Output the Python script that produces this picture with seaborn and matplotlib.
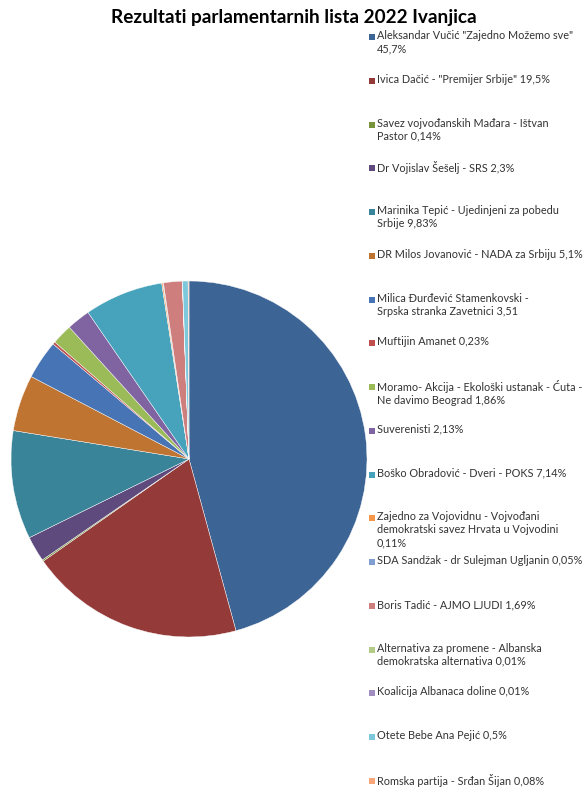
import numpy as np
import matplotlib
matplotlib.use("Agg")
import matplotlib.pyplot as plt
import seaborn as sns
from matplotlib.patches import Rectangle

# --- data ---
parties = [
    'Aleksandar Vučić "Zajedno Možemo sve"\n45,7%',
    'Ivica Dačić - "Premijer Srbije" 19,5%',
    'Savez vojvođanskih Mađara - Ištvan\nPastor 0,14%',
    'Dr Vojislav Šešelj - SRS 2,3%',
    'Marinika Tepić - Ujedinjeni za pobedu\nSrbije 9,83%',
    'DR Milos Jovanović - NADA za Srbiju 5,1%',
    'Milica Đurđević Stamenkovski -\nSrpska stranka Zavetnici 3,51',
    'Muftijin Amanet 0,23%',
    'Moramo- Akcija - Ekološki ustanak - Ćuta -\nNe davimo Beograd 1,86%',
    'Suverenisti 2,13%',
    'Boško Obradović - Dveri - POKS 7,14%',
    'Zajedno za Vojovidnu - Vojvođani\ndemokratski savez Hrvata u Vojvodini\n0,11%',
    'SDA Sandžak - dr Sulejman Ugljanin 0,05%',
    'Boris Tadić - AJMO LJUDI 1,69%',
    'Alternativa za promene - Albanska\ndemokratska alternativa 0,01%',
    'Koalicija Albanaca doline 0,01%',
    'Otete Bebe Ana Pejić 0,5%',
    'Romska partija - Srđan Šijan 0,08%',
]
shares = [45.7, 19.5, 0.14, 2.3, 9.83, 5.1, 3.51, 0.23, 1.86, 2.13,
          7.14, 0.11, 0.05, 1.69, 0.01, 0.01, 0.5, 0.08]

colors = ['#3C6494', '#943B3A', '#77933C', '#5E4A7D', '#3A8499', '#C07432',
          '#4674B4', '#C0504D', '#9BBB59', '#8064A2', '#47A3BC', '#F79646',
          '#7F9FD0', '#CD7E7D', '#B3CB86', '#A18FC1', '#7EC8DC', '#F8A77A']

sns.set_theme(style="white")
plt.rcParams['font.family'] = ['Lato', 'DejaVu Sans']

W, H = 586, 805
fig = plt.figure(figsize=(W / 100, H / 100), dpi=100)

# pie axes: centre (189, 459) px, radius 178 px
cx, cy, r = 189, 459, 178
ax = fig.add_axes([(cx - r) / W, 1 - (cy + r) / H, 2 * r / W, 2 * r / H])
wedges, _ = ax.pie(shares, colors=sns.color_palette(colors), startangle=90,
                   counterclock=False, radius=1,
                   wedgeprops=dict(edgecolor='white', linewidth=0.3))
ax.set_xlim(-1, 1)
ax.set_ylim(-1, 1)
ax.set_aspect('equal')
ax.axis('off')

fig.text(294 / W, 1 - 18 / H, 'Rezultati parlamentarnih lista 2022 Ivanjica',
         ha='center', va='center', fontsize=13.7, fontweight='bold', color='black')

# legend, first lines evenly spaced down the right side
first_lines = np.linspace(37, 781, len(parties))
for w, label, y in zip(wedges, parties, first_lines):
    fig.patches.append(Rectangle((369 / W, 1 - (y + 3) / H), 6 / W, 6 / H,
                                 transform=fig.transFigure,
                                 facecolor=w.get_facecolor(), edgecolor='none'))
    fig.text(377 / W, 1 - (y - 7) / H, label, ha='left', va='top',
             fontsize=7.8, color='#333333', linespacing=1.22)

fig.savefig('out.png', dpi=100)
